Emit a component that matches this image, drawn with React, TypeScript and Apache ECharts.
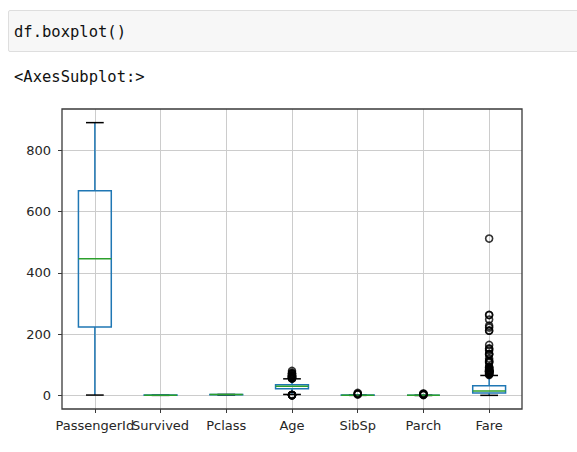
import React, { useEffect, useRef } from "react";
import * as echarts from "echarts";

const categories = ["PassengerId", "Survived", "Pclass", "Age", "SibSp", "Parch", "Fare"];
// [lower whisker, Q1, median, Q3, upper whisker]
const passengerIdStats = [1, 223.5, 446, 668.5, 891];
const survivedStats = [0, 0, 0, 1, 1];
const pclassStats = [1, 2, 3, 3, 3];
const ageStats = [3, 22, 29.7, 35, 54];
const sibSpStats = [0, 0, 0, 1, 2];
const parchStats = [0, 0, 0, 0, 0];
const fareStats = [0, 7.91, 14.45, 31, 65];

const passengerIdFliers: number[] = [];
const survivedFliers: number[] = [];
const pclassFliers: number[] = [];
const ageFliers = [0.42, 0.67, 0.75, 0.83, 0.92, 1, 2, 55, 55.5, 56, 57, 58, 59, 60, 61, 62, 63, 64, 65, 66, 70, 70.5, 71, 74, 80];
const sibSpFliers = [3, 4, 5, 8];
const parchFliers = [1, 2, 3, 4, 5, 6];
const fareFliers = [66.6, 69.3, 69.55, 71, 71.28, 73.5, 75.25, 76.29, 76.73, 77.29, 77.96, 78.27, 78.85, 79.2, 79.65, 80, 81.86, 82.17, 83.16, 83.47, 86.5, 89.1, 90, 91.08, 93.5, 106.43, 108.9, 110.88, 113.28, 120, 133.65, 134.5, 135.63, 146.52, 151.55, 153.46, 164.87, 211.34, 211.5, 221.78, 227.53, 247.52, 262.38, 263, 512.33];

const yTicks = [0, 200, 400, 600, 800];
const yMin = -44.55;
const yMax = 935.55;

export default function App() {
  const ref = useRef<HTMLDivElement>(null);

  useEffect(() => {
    if (!ref.current) return;
    const chart = echarts.init(ref.current, null, { renderer: "svg" });
    const stats = [passengerIdStats, survivedStats, pclassStats, ageStats, sibSpStats, parchStats, fareStats];
    const fliers = [passengerIdFliers, survivedFliers, pclassFliers, ageFliers, sibSpFliers, parchFliers, fareFliers];
    const boxData = stats.map((s, i) => [i, ...s]);
    const flierData: number[][] = [];
    fliers.forEach((arr, i) => arr.forEach((v) => flierData.push([i, v])));
    const xIdx = categories.map((_, i) => i);
    const evenIdx = xIdx.filter((i) => i % 2 === 0);
    const oddIdx = xIdx.filter((i) => i % 2 === 1);

    const blue = "#1f77b4";
    const green = "#2ca02c";
    const lw = 1.5;

    const labelStyle = {
      formatter: (v: number) => categories[Math.round(v)] ?? "",
      fontSize: 13,
      fontFamily: "DejaVu Sans",
      color: "#262626",
      margin: 10,
      showMinLabel: true,
      showMaxLabel: true,
      hideOverlap: false,
    };

    chart.setOption({
      animation: false,
      grid: {
        left: 62,
        right: 55,
        top: 109,
        bottom: 43,
        show: true,
        borderColor: "#3a3a3a",
        borderWidth: 1.3,
        backgroundColor: "transparent",
        z: 5,
      },
      xAxis: [
        {
          type: "value",
          position: "bottom",
          min: -0.5,
          max: 6.5,
          axisLine: { show: false, onZero: false },
          axisTick: { show: true, length: 4, lineStyle: { color: "#3a3a3a", width: 1 }, customValues: xIdx },
          axisLabel: { ...labelStyle, customValues: evenIdx },
          splitLine: { show: true, lineStyle: { color: "#cccccc", width: 1 } },
        },
        {
          type: "value",
          position: "bottom",
          offset: 0,
          min: -0.5,
          max: 6.5,
          axisLine: { show: false, onZero: false },
          axisTick: { show: false, customValues: oddIdx },
          axisLabel: { ...labelStyle, customValues: oddIdx },
          splitLine: { show: false },
        },
      ],
      yAxis: {
        type: "value",
        min: yMin,
        max: yMax,
        axisLine: { show: false, onZero: false },
        axisTick: { show: true, length: 4, lineStyle: { color: "#3a3a3a", width: 1 }, customValues: yTicks },
        axisLabel: {
          customValues: yTicks,
          fontSize: 13,
          fontFamily: "DejaVu Sans",
          color: "#262626",
          margin: 11,
          showMinLabel: true,
          showMaxLabel: true,
        },
        splitLine: { show: true, lineStyle: { color: "#cccccc", width: 1 } },
      },
      series: [
        {
          type: "custom",
          data: boxData,
          xAxisIndex: 0,
          z: 3,
          clip: true,
          renderItem: (params: any, api: any) => {
            const i = api.value(0);
            const lo = api.coord([i, api.value(1)]);
            const q1 = api.coord([i, api.value(2)]);
            const med = api.coord([i, api.value(3)]);
            const q3 = api.coord([i, api.value(4)]);
            const hi = api.coord([i, api.value(5)]);
            const band = api.size([1, 0])[0];
            const bw = band * 0.5;
            const cw = band * 0.27;
            const x = lo[0];
            return {
              type: "group",
              children: [
                { type: "line", shape: { x1: x, y1: q1[1], x2: x, y2: lo[1] }, style: { stroke: blue, lineWidth: lw } },
                { type: "line", shape: { x1: x, y1: q3[1], x2: x, y2: hi[1] }, style: { stroke: blue, lineWidth: lw } },
                { type: "line", shape: { x1: x - cw / 2, y1: lo[1], x2: x + cw / 2, y2: lo[1] }, style: { stroke: "#000", lineWidth: lw } },
                { type: "line", shape: { x1: x - cw / 2, y1: hi[1], x2: x + cw / 2, y2: hi[1] }, style: { stroke: "#000", lineWidth: lw } },
                { type: "rect", shape: { x: x - bw / 2, y: q3[1], width: bw, height: q1[1] - q3[1] }, style: { fill: "none", stroke: blue, lineWidth: lw } },
                { type: "line", shape: { x1: x - bw / 2, y1: med[1], x2: x + bw / 2, y2: med[1] }, style: { stroke: green, lineWidth: lw } },
              ],
            };
          },
        },
        {
          type: "scatter",
          data: flierData,
          xAxisIndex: 0,
          z: 4,
          symbol: "circle",
          symbolSize: 7,
          itemStyle: { color: "rgba(0,0,0,0)", borderColor: "#000", borderWidth: 1.6 },
        },
      ],
    });
    return () => chart.dispose();
  }, []);

  return (
    <div style={{ position: "fixed", left: 0, top: 0, width: 577, height: 452, background: "#fff", overflow: "hidden" }}>
      <div
        style={{
          position: "absolute",
          left: 8,
          top: 10,
          width: 620,
          height: 40,
          border: "1px solid #dedede",
          borderRadius: 2,
          background: "#f7f7f7",
          boxSizing: "content-box",
        }}
      />
      <div
        style={{
          position: "absolute",
          left: 14,
          top: 22,
          fontFamily: "'DejaVu Sans Mono', monospace",
          fontSize: 15.5,
          lineHeight: "20px",
          color: "#111",
          whiteSpace: "pre",
        }}
      >
        df.boxplot()
      </div>
      <div
        style={{
          position: "absolute",
          left: 14,
          top: 67,
          fontFamily: "'DejaVu Sans Mono', monospace",
          fontSize: 15.5,
          lineHeight: "20px",
          color: "#111",
          whiteSpace: "pre",
        }}
      >
        {"<AxesSubplot:>"}
      </div>
      <div ref={ref} style={{ position: "absolute", left: 0, top: 0, width: 577, height: 452 }} />
    </div>
  );
}
